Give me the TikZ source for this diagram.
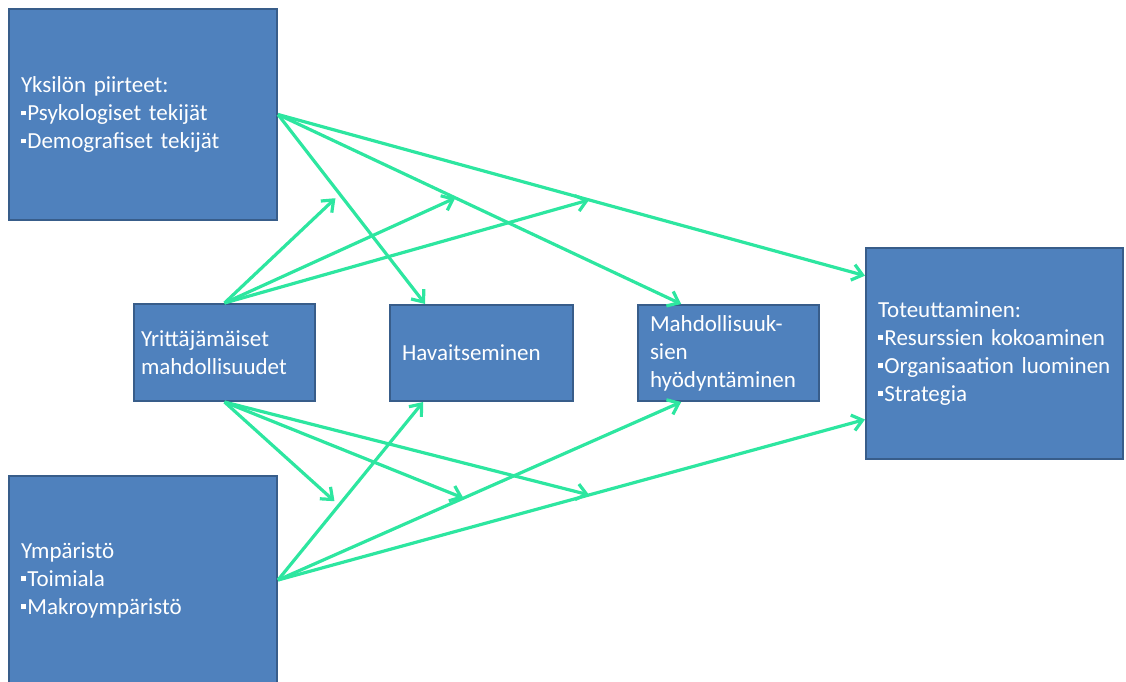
\documentclass[tikz,border=0pt]{standalone}
\usepackage{fontspec}
\setmainfont{Carlito}
\usepackage{tikz}
\usetikzlibrary{arrows.meta}
\pgfdeclarelayer{nodelayer}
\pgfdeclarelayer{edgelayer}
\pgfsetlayers{nodelayer,edgelayer,main}
\definecolor{boxblue}{RGB}{79,129,189}
\definecolor{boxline}{RGB}{56,93,138}
\definecolor{arrowgreen}{RGB}{45,230,160}
\newcommand{\bul}{\rule[2.6pt]{2.4pt}{2.4pt}\hspace{0.8pt}}

\begin{document}
\begin{tikzpicture}[x=0.5pt, y=-0.5pt,
  blok/.style={draw=boxline, fill=boxblue, line width=1pt, text=white, align=left,
    inner xsep=6pt, inner ysep=0pt, font=\fontsize{11.5}{14}\selectfont},
  pijl/.style={draw=arrowgreen, line width=1.6pt, -{Straight Barb[length=5pt,width=8pt]}}]
  \useasboundingbox (0,0) rectangle (1126,681);
  \begin{pgfonlayer}{nodelayer}
    \node [blok, minimum width=134pt, text width=122pt, minimum height=105.5pt] (yksilo) at (143, 114.5) {Yksilön piirteet:\\\bul Psykologiset tekijät\\\bul Demografiset tekijät};
    \node [blok, minimum width=90.5pt, text width=83.5pt, inner xsep=3.5pt, minimum height=48.5pt] (mahd) at (224.5, 352.5) {Yrittäjämäiset\\mahdollisuudet};
    \node [blok, minimum width=91.5pt, text width=79.5pt, minimum height=48pt] (havait) at (481.5, 353) {Havaitseminen};
    \node [blok, minimum width=90.5pt, text width=78.5pt, minimum height=48pt] (hyodyn) at (728.5, 353) {Mahdollisuuk-\\sien\\hyödyntäminen};
    \node [blok, minimum width=128.5pt, text width=116.5pt, minimum height=105.5pt] (toteut) at (994.5, 353.5) {Toteuttaminen:\\\bul Resurssien kokoaminen\\\bul Organisaation luominen\\\bul Strategia};
    \node [blok, minimum width=134pt, text width=122pt, minimum height=104pt] (ymparisto) at (143, 580) {Ympäristö\\\bul Toimiala\\\bul Makroympäristö};
  \end{pgfonlayer}
  \begin{pgfonlayer}{edgelayer}
    % yksilon piirteet
    \draw [pijl] (yksilo.east) to coordinate [pos=0.42] (y1) (havait.139);
    \draw [pijl] (yksilo.east) to coordinate [pos=0.44] (y2) (hyodyn.134);
    \draw [pijl] (yksilo.east) to coordinate [pos=0.53] (y3) (toteut.149);
    % ymparisto
    \draw [pijl] (ymparisto.east) to coordinate [pos=0.42] (a1) (havait.220);
    \draw [pijl] (ymparisto.east) to coordinate [pos=0.46] (a2) (hyodyn.226);
    \draw [pijl] (ymparisto.east) to coordinate [pos=0.53] (a3) (toteut.207);
    % mahdollisuudet moderoivat
    \draw [pijl, shorten >=3pt] (mahd.north) to (y1);
    \draw [pijl] (mahd.north) to (y2);
    \draw [pijl] (mahd.north) to (y3);
    \draw [pijl, shorten >=3pt] (mahd.south) to (a1);
    \draw [pijl] (mahd.south) to (a2);
    \draw [pijl] (mahd.south) to (a3);
  \end{pgfonlayer}
\end{tikzpicture}
\end{document}
